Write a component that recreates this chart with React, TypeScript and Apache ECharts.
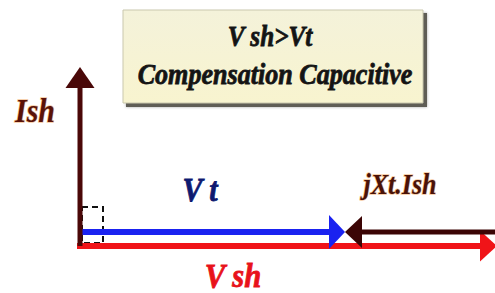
import React, { useEffect, useRef } from "react";
import * as echarts from "echarts";

// Phasors (origin at the foot of the Ish axis), values in drawing units
const phasorNames = ["Vsh", "Vt", "jXt.Ish", "Ish"];
const startX = [0, 0, 417, 0];
const startY = [0, 14, 14, 0];
const endX = [417, 265, 265, 0];
const endY = [0, 14, 14, 179];

const phasorStyle: Record<string, { color: string; width: number; headLen: number; headWid: number; cap: string }> = {
  Vsh: { color: "#f01418", width: 6, headLen: 17, headWid: 31, cap: "square" },
  Vt: { color: "#1a22f0", width: 6, headLen: 16, headWid: 34, cap: "butt" },
  "jXt.Ish": { color: "#3c0505", width: 5, headLen: 17, headWid: 32, cap: "butt" },
  Ish: { color: "#4a0808", width: 5, headLen: 21, headWid: 29, cap: "butt" },
};

const titleLine1 = "V sh>Vt";
const titleLine2 = "Compensation Capacitive";

const FONT = '"Liberation Serif", "Times New Roman", serif';

export default function App() {
  const ref = useRef<HTMLDivElement>(null);
  useEffect(() => {
    if (!ref.current) return;
    const chart = echarts.init(ref.current, undefined, { renderer: "svg" });
    const data = phasorNames.map((n, i) => [startX[i], startY[i], endX[i], endY[i]]);

    const txt = (text: string, x: number, y: number, size: number, sx: number, fill: string, halo?: string) => ({
      type: "text",
      x,
      y,
      scaleX: sx,
      z: 10,
      style: {
        text,
        fill,
        font: `italic bold ${size}px ${FONT}`,
        textAlign: "center",
        textVerticalAlign: "middle",
        align: "center",
        verticalAlign: "middle",
        stroke: halo || fill,
        lineWidth: halo ? 1.6 : 0.8,
      },
    });

    chart.setOption({
      animation: false,
      grid: { left: 0, right: 0, top: 0, bottom: 0 },
      xAxis: { type: "value", min: -80, max: 415, show: false },
      yAxis: { type: "value", min: -47, max: 246, show: false },
      series: [
        {
          type: "custom",
          clip: false,
          z: 3,
          data: [[0, 0]],
          encode: { x: 0, y: 1 },
          renderItem: (params: any, api: any) => {
            const o = api.coord([api.value(0), api.value(1)]);
            return {
              type: "rect",
              shape: { x: o[0] + 2, y: o[1] - 39, width: 21, height: 36 },
              style: { fill: "none", stroke: "#111", lineWidth: 2, lineDash: [6, 4] },
            };
          },
        },
        {
          type: "custom",
          clip: false,
          z: 4,
          data,
          encode: { x: [0, 2], y: [1, 3] },
          renderItem: (params: any, api: any) => {
            const i = params.dataIndex;
            const s = phasorStyle[phasorNames[i]];
            const p0 = api.coord([api.value(0), api.value(1)]);
            const p1 = api.coord([api.value(2), api.value(3)]);
            const dx = p1[0] - p0[0];
            const dy = p1[1] - p0[1];
            const L = Math.hypot(dx, dy) || 1;
            const ux = dx / L, uy = dy / L;
            const nx = -uy, ny = ux;
            const bx = p1[0] - ux * s.headLen;
            const by = p1[1] - uy * s.headLen;
            const hw = s.headWid / 2;
            return {
              type: "group",
              children: [
                {
                  type: "line",
                  shape: { x1: p0[0], y1: p0[1], x2: bx + ux, y2: by + uy },
                  style: { stroke: s.color, lineWidth: s.width, lineCap: s.cap },
                },
                {
                  type: "polygon",
                  shape: {
                    points: [
                      [p1[0], p1[1]],
                      [bx + nx * hw, by + ny * hw],
                      [bx - nx * hw, by - ny * hw],
                    ],
                  },
                  style: { fill: s.color },
                },
              ],
            };
          },
        },
      ],
      graphic: [
        {
          type: "rect",
          z: 1,
          shape: { x: 126, y: 13, width: 301, height: 94 },
          style: { fill: "#5e5d55", shadowBlur: 3, shadowColor: "rgba(0,0,0,0.35)" },
        },
        {
          type: "rect",
          z: 2,
          shape: { x: 123, y: 10, width: 300, height: 93 },
          style: {
            fill: {
              type: "linear",
              x: 0, y: 0, x2: 0, y2: 1,
              colorStops: [
                { offset: 0, color: "#f4f2da" },
                { offset: 1, color: "#f8f4cf" },
              ],
            },
            stroke: "#c9c7ad",
            lineWidth: 1,
          },
        },
        txt(titleLine1, 270, 36, 30, 0.84, "#141414"),
        txt(titleLine2, 275, 74, 30, 0.87, "#141414"),
        txt("Ish", 35, 110, 34, 0.88, "#5a1208", "rgba(235,150,70,0.55)"),
        txt("V t", 200, 189, 34, 0.88, "#0e1a70"),
        txt("V sh", 233, 275, 34, 0.9, "#e8121a"),
        txt("jXt.Ish", 400, 184, 29, 0.9, "#4a1208", "rgba(235,150,70,0.55)"),
      ],
    });
    return () => chart.dispose();
  }, []);
  return (
    <div
      ref={ref}
      style={{ position: "fixed", left: 0, top: 0, width: 495, height: 293, background: "#fff" }}
    />
  );
}
